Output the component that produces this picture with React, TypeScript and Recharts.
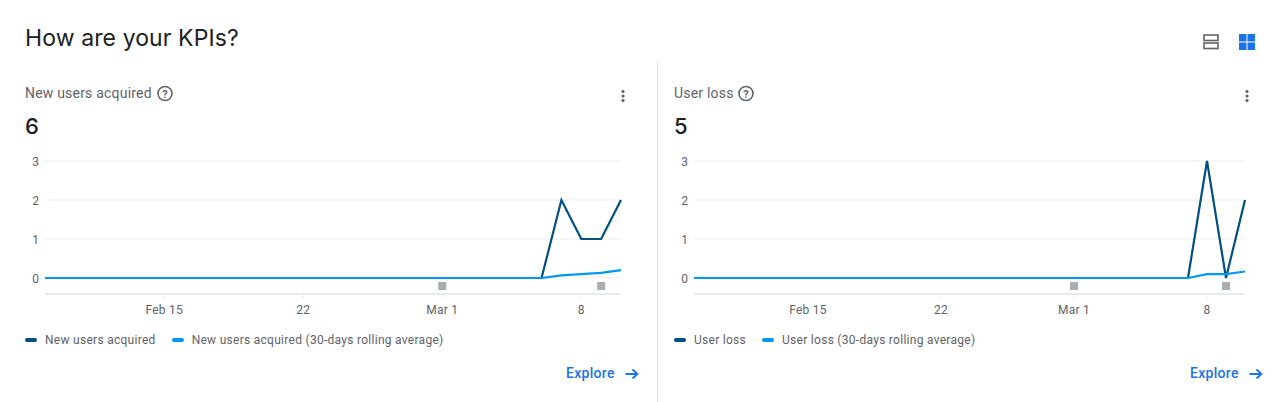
import React from "react";
import { LineChart, Line, XAxis, YAxis, CartesianGrid, Legend } from "recharts";

const dates = [
  "Feb 9", "Feb 10", "Feb 11", "Feb 12", "Feb 13", "Feb 14", "Feb 15", "Feb 16", "Feb 17", "Feb 18",
  "Feb 19", "Feb 20", "Feb 21", "Feb 22", "Feb 23", "Feb 24", "Feb 25", "Feb 26", "Feb 27", "Feb 28",
  "Mar 1", "Mar 2", "Mar 3", "Mar 4", "Mar 5", "Mar 6", "Mar 7", "Mar 8", "Mar 9", "Mar 10",
];
const tickDates = ["Feb 15", "Feb 22", "Mar 1", "Mar 8"];
const tickLabels = ["Feb 15", "22", "Mar 1", "8"];
const yTicks = [0, 1, 2, 3];
const yDomain = [-0.41, 3];

const newUsers = [0, 0, 0, 0, 0, 0, 0, 0, 0, 0, 0, 0, 0, 0, 0, 0, 0, 0, 0, 0, 0, 0, 0, 0, 0, 0, 2, 1, 1, 2];
const newUsersAvg = [0, 0, 0, 0, 0, 0, 0, 0, 0, 0, 0, 0, 0, 0, 0, 0, 0, 0, 0, 0, 0, 0, 0, 0, 0, 0, 0.067, 0.1, 0.133, 0.2];
const userLoss = [0, 0, 0, 0, 0, 0, 0, 0, 0, 0, 0, 0, 0, 0, 0, 0, 0, 0, 0, 0, 0, 0, 0, 0, 0, 0, 0, 3, 0, 2];
const userLossAvg = [0, 0, 0, 0, 0, 0, 0, 0, 0, 0, 0, 0, 0, 0, 0, 0, 0, 0, 0, 0, 0, 0, 0, 0, 0, 0, 0, 0.1, 0.1, 0.167];
const noteDates = ["Mar 1", "Mar 9"];
const noteLevel = -0.205;

const DARK = "#01507f";
const LIGHT = "#0098f0";
const GREY = "#5f6368";
const BLUE = "#1a73e8";
const FONT = "Roboto, sans-serif";

const buildRows = (main: number[], avg: number[]) =>
  dates.map((date, i) => ({
    date,
    main: main[i],
    avg: avg[i],
    note: noteDates.includes(date) ? noteLevel : null,
  }));

const NoteDot = ({ cx, cy, value }: { cx?: number; cy?: number; value?: number | null }) => {
  if (value == null || cx == null || cy == null) return <g />;
  return <rect x={cx - 4} y={cy - 4} width={8} height={8} fill="#aaadb0" />;
};

const LegendRow = ({ items }: { items: { label: string; color: string }[] }) => (
  <div style={{ display: "flex", height: 32, alignItems: "center", fontFamily: FONT, fontSize: 12, letterSpacing: 0.28, color: GREY }}>
    {items.map((it) => (
      <div key={it.label} style={{ display: "flex", alignItems: "center", marginRight: 16 }}>
        <span style={{ width: 12, height: 4, borderRadius: 2, background: it.color, marginRight: 8 }} />
        <span>{it.label}</span>
      </div>
    ))}
  </div>
);

const HelpIcon = ({ x, y }: { x: number; y: number }) => (
  <svg width="18" height="18" viewBox="0 0 18 18" style={{ position: "absolute", left: x, top: y }}>
    <circle cx="9" cy="9.5" r="7" fill="none" stroke={GREY} strokeWidth="1.6" />
    <text x="9" y="13.5" textAnchor="middle" fontSize="11" fontWeight="700" fill={GREY} fontFamily={FONT}>?</text>
  </svg>
);

const MoreIcon = ({ x, y }: { x: number; y: number }) => (
  <svg width="6" height="14" style={{ position: "absolute", left: x, top: y }}>
    <circle cx="3" cy="2.5" r="1.6" fill={GREY} />
    <circle cx="3" cy="7" r="1.6" fill={GREY} />
    <circle cx="3" cy="11.5" r="1.6" fill={GREY} />
  </svg>
);

const ExploreLink = ({ x }: { x: number }) => (
  <div style={{ position: "absolute", left: x, top: 365, display: "flex", alignItems: "center", fontFamily: FONT, fontSize: 14, fontWeight: 500, letterSpacing: 0.3, color: BLUE, lineHeight: "17px" }}>
    <span>Explore</span>
    <svg width="14" height="12" viewBox="0 0 14 12" style={{ marginLeft: 10 }}>
      <path d="M0.5 6H12M7.5 1.5L12.5 6L7.5 10.5" fill="none" stroke={BLUE} strokeWidth="1.8" />
    </svg>
  </div>
);

interface PanelProps {
  title: string;
  total: string;
  left: number;
  chartWidth: number;
  rows: ReturnType<typeof buildRows>;
  helpX: number;
  moreX: number;
  exploreX: number;
}

const Panel = ({ title, total, left, chartWidth, rows, helpX, moreX, exploreX }: PanelProps) => (
  <>
    <div style={{ position: "absolute", left, top: 84, fontFamily: FONT, fontSize: 14, letterSpacing: 0.2, color: GREY, lineHeight: "18px" }}>{title}</div>
    <HelpIcon x={helpX} y={84} />
    <MoreIcon x={moreX} y={89} />
    <div style={{ position: "absolute", left, top: 112, fontFamily: "Inter, sans-serif", fontSize: 22, fontWeight: 500, color: "#202124", lineHeight: "28px" }}>{total}</div>
    <div style={{ position: "absolute", left: left - 25, top: 150 }}>
      <LineChart
        width={chartWidth}
        height={206}
        data={rows}
        margin={{ top: 11, right: 19, bottom: 0, left: 5 }}
      >
        <CartesianGrid vertical={false} stroke="#f1f3f4" strokeWidth={1.5} />
        <XAxis
          dataKey="date"
          ticks={tickDates}
          interval={0}
          height={30}
          tickFormatter={(d: string) => tickLabels[tickDates.indexOf(d)]}
          tick={{ fontSize: 12, fill: GREY, fontFamily: FONT, letterSpacing: 0.25 }}
          axisLine={{ stroke: "#e8eaed", strokeWidth: 2 }}
          tickLine={{ stroke: "#e8eaed" }}
          tickSize={5}
          tickMargin={6}
        />
        <YAxis
          domain={yDomain}
          ticks={yTicks}
          width={40}
          tick={{ fontSize: 12, fill: GREY, fontFamily: FONT, dy: 1 }}
          axisLine={false}
          tickLine={false}
          tickSize={0}
          tickMargin={6}
        />
        <Legend
          verticalAlign="bottom"
          align="left"
          height={32}
          wrapperStyle={{ left: 25, width: 560 }}
          content={() => (
            <LegendRow
              items={[
                { label: title, color: DARK },
                { label: `${title} (30-days rolling average)`, color: LIGHT },
              ]}
            />
          )}
        />
        <Line dataKey="main" stroke={DARK} strokeWidth={2.2} dot={false} isAnimationActive={false} />
        <Line dataKey="avg" stroke={LIGHT} strokeWidth={2.2} dot={false} isAnimationActive={false} />
        <Line
          dataKey="note"
          stroke="none"
          legendType="none"
          dot={(p: any) => <NoteDot key={p.index} cx={p.cx} cy={p.cy} value={p.value} />}
          isAnimationActive={false}
        />
      </LineChart>
    </div>
    <ExploreLink x={exploreX} />
  </>
);

export default function App() {
  return (
    <div style={{ position: "absolute", left: 0, top: 0, width: 1280, height: 402, background: "#fff", overflow: "hidden" }}>
      <div style={{ position: "absolute", left: 25, top: 23, fontFamily: "Inter, sans-serif", fontSize: 23, letterSpacing: 0.1, color: "#202124", lineHeight: "30px" }}>
        How are your KPIs?
      </div>
      <svg width="18" height="18" style={{ position: "absolute", left: 1202, top: 33 }}>
        <rect x="2" y="2" width="14" height="5.5" fill="none" stroke={GREY} strokeWidth="1.6" />
        <rect x="2" y="10" width="14" height="5.5" fill="none" stroke={GREY} strokeWidth="1.6" />
      </svg>
      <svg width="18" height="18" style={{ position: "absolute", left: 1238, top: 33 }}>
        <rect x="1" y="1" width="7.5" height="7.5" fill={BLUE} />
        <rect x="9.5" y="1" width="7.5" height="7.5" fill={BLUE} />
        <rect x="1" y="9.5" width="7.5" height="7.5" fill={BLUE} />
        <rect x="9.5" y="9.5" width="7.5" height="7.5" fill={BLUE} />
      </svg>
      <div style={{ position: "absolute", left: 657, top: 62, width: 1, height: 340, background: "#dadce0" }} />
      <Panel
        title="New users acquired"
        total="6"
        left={25}
        chartWidth={640}
        rows={buildRows(newUsers, newUsersAvg)}
        helpX={156}
        moreX={620}
        exploreX={566}
      />
      <Panel
        title="User loss"
        total="5"
        left={674}
        chartWidth={615}
        rows={buildRows(userLoss, userLossAvg)}
        helpX={737}
        moreX={1244}
        exploreX={1190}
      />
    </div>
  );
}
